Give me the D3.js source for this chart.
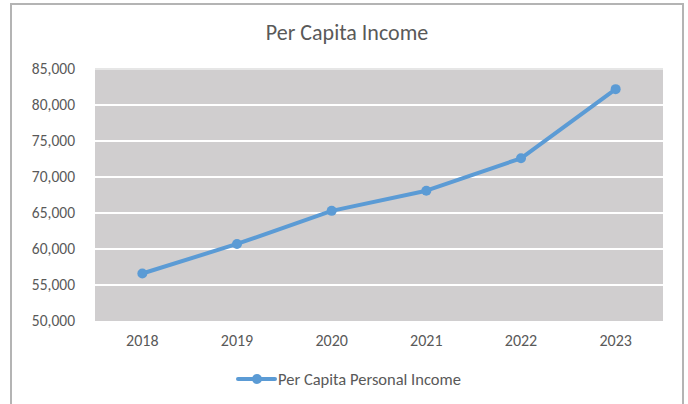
<!DOCTYPE html>
<html>
<head>
<meta charset="utf-8">
<script src="https://cdn.jsdelivr.net/npm/d3@7"></script>
<style>
  html, body { margin: 0; padding: 0; background: #ffffff; }
  svg { display: block; }
  text { font-family: Carlito, Calibri, Lato, "Open Sans", sans-serif; fill: #595959; }
</style>
</head>
<body>
<svg id="chart" width="688" height="404"></svg>
<script>
// Per capita personal income by year
const years = ["2018", "2019", "2020", "2021", "2022", "2023"];
const income = [56600, 60700, 65300, 68100, 72600, 82200];
const yTicks = [50000, 55000, 60000, 65000, 70000, 75000, 80000, 85000];
const chartTitle = "Per Capita Income";
const seriesName = "Per Capita Personal Income";

const lineColor = "#5b9bd5";
const svg = d3.select("#chart");

// outer chart frame
svg.append("rect")
  .attr("x", 11).attr("y", 4)
  .attr("width", 672).attr("height", 420)
  .attr("fill", "#ffffff")
  .attr("stroke", "#b4b4b4")
  .attr("stroke-width", 2);

const plot = { left: 95, right: 663, top: 69, bottom: 321 };

const x = d3.scaleBand().domain(years).range([plot.left, plot.right]);
const y = d3.scaleLinear().domain([50000, 85000]).range([plot.bottom, plot.top]);

// plot area fill
svg.append("rect")
  .attr("x", plot.left).attr("y", plot.top)
  .attr("width", plot.right - plot.left).attr("height", plot.bottom - plot.top)
  .attr("fill", "#d0cecf");

// horizontal gridlines
svg.append("g")
  .selectAll("line")
  .data(yTicks.filter(v => v > 50000))
  .join("line")
  .attr("x1", plot.left).attr("x2", plot.right)
  .attr("y1", d => y(d)).attr("y2", d => y(d))
  .attr("stroke", d => d === 85000 ? "#e6e6e6" : "#ffffff")
  .attr("stroke-width", 2);

// y axis labels
const fmt = d3.format(",");
const yAxis = svg.append("g")
  .attr("transform", `translate(${plot.left},0)`)
  .call(d3.axisLeft(y).tickValues(yTicks).tickFormat(fmt).tickSize(0).tickPadding(20));
yAxis.select(".domain").remove();
yAxis.selectAll("text")
  .style("font-size", "15.5px")
  .attr("fill", "#595959");

// x axis labels
const xAxis = svg.append("g")
  .attr("transform", `translate(0,${plot.bottom})`)
  .call(d3.axisBottom(x).tickSize(0).tickPadding(14));
xAxis.select(".domain").remove();
xAxis.selectAll("text")
  .style("font-size", "16px")
  .attr("fill", "#595959");

// series line
const line = d3.line()
  .x((d, i) => x(years[i]) + x.bandwidth() / 2)
  .y(d => y(d));

svg.append("path")
  .datum(income)
  .attr("d", line)
  .attr("fill", "none")
  .attr("stroke", lineColor)
  .attr("stroke-width", 4)
  .attr("stroke-linejoin", "round")
  .attr("stroke-linecap", "round");

svg.append("g")
  .selectAll("circle")
  .data(income)
  .join("circle")
  .attr("cx", (d, i) => x(years[i]) + x.bandwidth() / 2)
  .attr("cy", d => y(d))
  .attr("r", 5)
  .attr("fill", lineColor);

// title
svg.append("text")
  .attr("x", 347).attr("y", 40)
  .attr("text-anchor", "middle")
  .style("font-size", "22px")
  .text(chartTitle);

// legend
const legend = svg.append("g").attr("transform", "translate(238,379)");
legend.append("line")
  .attr("x1", 0).attr("x2", 37)
  .attr("y1", 0).attr("y2", 0)
  .attr("stroke", lineColor)
  .attr("stroke-width", 4)
  .attr("stroke-linecap", "round");
legend.append("circle")
  .attr("cx", 19).attr("cy", 0).attr("r", 5)
  .attr("fill", lineColor);
legend.append("text")
  .attr("x", 40).attr("y", 5.5)
  .style("font-size", "16.5px")
  .text(seriesName);
</script>
</body>
</html>
